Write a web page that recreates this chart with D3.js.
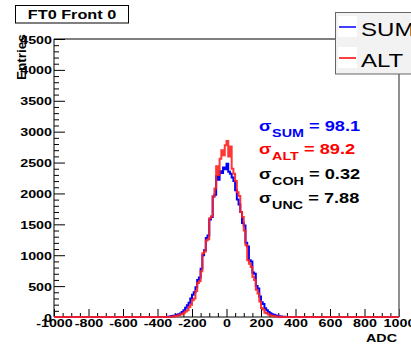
<!DOCTYPE html>
<html><head><meta charset="utf-8">
<script src="https://cdn.jsdelivr.net/npm/d3@7/dist/d3.min.js"></script>
<style>body{margin:0;background:#fff}svg{display:block}</style>
</head><body>
<script>
// ---- data ----
const title = "FT0 Front 0";
const xTitle = "ADC";
const yTitle = "Entries";
const seriesNames = ["SUM", "ALT"];
const binStart = -350;
const binWidth = 10;
const sumCounts = [0,5,10,15,20,25,35,45,55,80,110,150,190,230,300,360,400,480,600,640,
  780,1000,1080,1280,1320,1580,1620,1950,1980,2280,2220,2360,2330,2420,2390,2480,2350,2320,2260,2200,
  2050,1900,1820,1700,1520,1480,1200,1140,920,900,720,700,500,460,330,240,210,140,110,80,
  60,45,35,25,20,12,8,5,3,0];
const altCounts = [0,0,5,5,10,15,20,30,40,50,70,90,110,160,200,270,300,420,550,580,
  740,1030,1060,1240,1260,1600,1630,1950,2080,2440,2300,2560,2700,2620,2780,2850,2600,2760,2400,2320,
  2200,2020,1960,1700,1620,1400,1160,920,860,810,650,600,440,380,250,145,120,70,60,40,
  30,20,15,10,8,5,3,2,0,0];
const stats = [
  {sub:"SUM", val:"98.1", color:"#0000ff"},
  {sub:"ALT", val:"89.2", color:"#ff0000"},
  {sub:"COH", val:"0.32", color:"#000000"},
  {sub:"UNC", val:"7.88", color:"#000000"}
];
const xDomain = [-1000, 1000];
const yDomain = [0, 4500];
const xMajor = [-1000,-800,-600,-400,-200,0,200,400,600,800,1000];
const yMajor = [0,500,1000,1500,2000,2500,3000,3500,4000,4500];

// ---- layout ----
const W = 411, H = 346;
const SX = 1.3; // horizontal stretch of the original rendering
const L = 54, R = 399, T = 39, B = 317;
const font = "'Liberation Sans', Arial, Helvetica, sans-serif";
const fmt = d => String(d); // plain hyphen minus, as in the reference

const svg = d3.select("body").append("svg").attr("width", W).attr("height", H)
  .style("font-family", font);

const x = d3.scaleLinear().domain(xDomain).range([L, R]);
const y = d3.scaleLinear().domain(yDomain).range([B, T]);

const xMinor = x.ticks(40).filter(v => xMajor.indexOf(v) < 0);
const yMinor = y.ticks(45).filter(v => yMajor.indexOf(v) < 0);

// ---- axes ----
const gx = svg.append("g").attr("transform", `translate(0,${B})`);
gx.call(d3.axisBottom(x).tickValues(xMinor).tickSize(-4).tickFormat(""));
const gxM = svg.append("g").attr("transform", `translate(0,${B})`);
gxM.call(d3.axisBottom(x).tickValues(xMajor).tickSize(-8).tickFormat(fmt));
gxM.selectAll("text").attr("y", null).attr("dy", null)
  .attr("transform", `translate(0,9.5) scale(${SX},1)`)
  .style("font-size", "11px").style("font-weight", "bold").attr("fill", "#000");

const gy = svg.append("g").attr("transform", `translate(${L},0)`);
gy.call(d3.axisLeft(y).tickValues(yMinor).tickSize(-5).tickFormat(""));
const gyM = svg.append("g").attr("transform", `translate(${L},0)`);
gyM.call(d3.axisLeft(y).tickValues(yMajor).tickSize(-11).tickFormat(fmt));
gyM.selectAll("text").attr("x", null).attr("dy", null)
  .attr("transform", `translate(-2,4) scale(${SX},1)`)
  .style("font-size", "11px").style("font-weight", "bold").attr("fill", "#000");

svg.selectAll(".domain").remove();
svg.selectAll(".tick line").attr("stroke", "#000").attr("stroke-width", 1);

// frame
svg.append("line").attr("x1", L).attr("x2", L).attr("y1", T).attr("y2", B).attr("stroke", "#000");
svg.append("line").attr("x1", L).attr("x2", R).attr("y1", T).attr("y2", T).attr("stroke", "#000");
svg.append("line").attr("x1", R).attr("x2", R).attr("y1", T).attr("y2", B).attr("stroke", "#6a6a6a").attr("stroke-width", 1.5);
svg.append("line").attr("x1", L).attr("x2", R).attr("y1", B).attr("y2", B).attr("stroke", "#000");

// ---- histograms ----
function histPoints(counts) {
  const pts = [[xDomain[0], 0], [binStart, 0]];
  counts.forEach((c, i) => pts.push([binStart + i * binWidth, c]));
  pts.push([binStart + counts.length * binWidth, 0]);
  pts.push([xDomain[1], 0]);
  return pts;
}
const step = d3.line().x(d => x(d[0])).y(d => y(d[1])).curve(d3.curveStepAfter);
svg.append("path").attr("d", step(histPoints(sumCounts)))
  .attr("fill", "none").attr("stroke", "#0000ff").attr("stroke-width", 2);
svg.append("path").attr("d", step(histPoints(altCounts)))
  .attr("fill", "none").attr("stroke", "#ff2020").attr("stroke-width", 2).attr("stroke-opacity", 0.9);

// ---- axis titles ----
svg.append("text").text(xTitle)
  .attr("transform", `translate(397,342) scale(${SX},1)`)
  .attr("text-anchor", "end").style("font-size", "11px").style("font-weight", "bold");
svg.append("text").text(yTitle)
  .attr("transform", `translate(25.5,57) rotate(-90)`)
  .attr("text-anchor", "middle").style("font-size", "13.5px").style("font-weight", "bold");

// ---- title box ----
svg.append("rect").attr("x", 15.5).attr("y", 5.5).attr("width", 113).attr("height", 17.5)
  .attr("fill", "#fff").attr("stroke", "#000");
svg.append("text").text(title)
  .attr("transform", `translate(72,19) scale(${SX},1)`)
  .attr("text-anchor", "middle").style("font-size", "12.5px").style("font-weight", "bold");

// ---- legend ----
const leg = svg.append("g");
leg.append("rect").attr("x", 335.5).attr("y", 12.5).attr("width", 90).attr("height", 61.5)
  .attr("fill", "#f2f2f2").attr("stroke", "#666");
const legColors = ["#0000ff", "#ff0000"];
const legY = [27, 58];
seriesNames.forEach((n, i) => {
  leg.append("rect").attr("x", 338).attr("y", legY[i] - 11).attr("width", 19).attr("height", 21).attr("fill", "#fff");
  leg.append("line").attr("x1", 339).attr("x2", 356).attr("y1", legY[i]).attr("y2", legY[i])
    .attr("stroke", legColors[i]).attr("stroke-width", 1.5);
  leg.append("text").text(n)
    .attr("transform", `translate(361,${legY[i] + 8.5}) scale(${SX},1)`)
    .style("font-size", "18.5px").attr("fill", "#000");
});

// ---- stats text ----
const statY = [131, 154, 179, 203];
stats.forEach((s, i) => {
  const t = svg.append("text")
    .attr("transform", `translate(259,${statY[i]}) scale(${SX},1)`)
    .attr("fill", s.color).style("font-weight", "bold");
  t.append("tspan").text("σ").style("font-size", "14px");
  t.append("tspan").text(s.sub).attr("dy", 6).attr("dx", 0.5).style("font-size", "11px");
  t.append("tspan").text("= " + s.val).attr("dy", -6).attr("dx", 4).style("font-size", "14px");
});
</script>
</body></html>
